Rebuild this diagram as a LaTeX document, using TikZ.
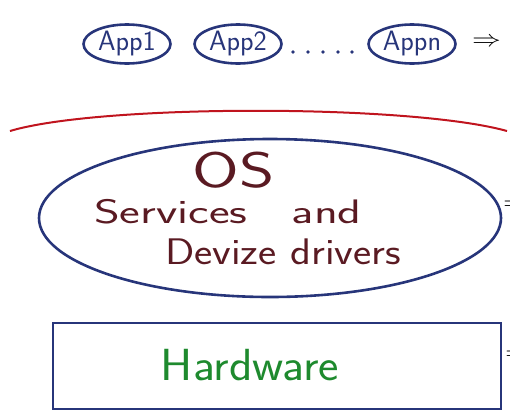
\documentclass[tikz,border=0pt]{standalone}
\usepackage{amsmath}
\usetikzlibrary{shapes.geometric}
\definecolor{inkblue}{HTML}{27357A}
\definecolor{inkred}{HTML}{C0141E}
\definecolor{inkbrown}{HTML}{5A1A22}
\definecolor{inkgreen}{HTML}{1E8A2E}
\newcommand{\wide}[2]{\scalebox{#1}[1]{#2}}
\newcommand{\thenarrow}{\scalebox{2.0}[1.6]{$\Rightarrow$}}

\begin{document}
\begin{tikzpicture}[
  x=1pt, y=-1pt,
  app/.style={draw=inkblue, line width=2.6pt, ellipse, minimum width=87pt, minimum height=39pt, inner sep=0pt, font=\sffamily\fontsize{28}{30}\selectfont, text=inkblue},
  word/.style={font=\sffamily\fontsize{34}{36}\selectfont, text=inkbrown},
  hwbox/.style={draw=inkblue, line width=2.6pt, minimum width=448pt, minimum height=86pt, inner sep=0pt},
  more/.style={font=\Large, text=black, inner sep=0pt}
]
\clip (0,0) rectangle (510,416);

% applications
\node[app] (app1) at (127,44) {App1};
\node[app] (app2) at (238,44) {App2};
\node[app] (appn) at (412,44) {Appn};
\foreach \dx in {293,308,323,338,352}
  \fill[inkblue] (\dx,52) circle (1.8pt);
\node[more, anchor=west] (arrA) at (472,42) {\thenarrow};

% boundary
\draw[inkred, line width=2pt] (10,131) .. controls (100,104) and (410,104) .. (507,131);

% operating system
\draw[inkblue, line width=2.6pt] (270,218) ellipse (231pt and 79pt);
\node[font=\sffamily\fontsize{50}{52}\selectfont, text=inkbrown] (os) at (234,170) {\wide{1.35}{OS}};
\node[word] (serv) at (228,212) {\wide{1.45}{Services\hspace{0.9em}and}};
\node[word, font=\sffamily\fontsize{37}{40}\selectfont] (drv) at (283,252) {\wide{1.17}{Devize drivers}};
\node[more, anchor=west] (arrB) at (503,205) {\thenarrow};

% hardware
\node[hwbox] (hw) at (277,366) {};
\node[font=\sffamily\fontsize{45}{46}\selectfont, text=inkgreen] (hwtxt) at (250,365) {\wide{1.08}{Hardware}};
\node[more, anchor=west] (arrC) at (505,355) {\thenarrow};
\end{tikzpicture}
\end{document}
